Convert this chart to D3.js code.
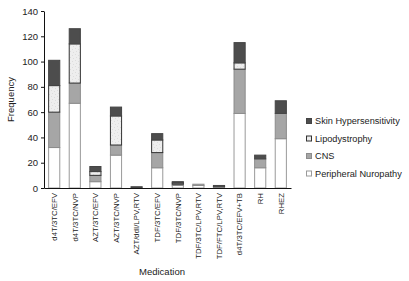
<!DOCTYPE html>
<html>
<head>
<meta charset="utf-8">
<script src="https://cdn.jsdelivr.net/npm/d3@7"></script>
<style>
  body { margin: 0; background: #fff; }
  text { font-family: "Liberation Sans", Arial, sans-serif; fill: #222; }
  .axis path, .axis line { stroke: #111; }
</style>
</head>
<body>
<svg width="409" height="281"></svg>
<script>
// Chart data
var medications = ['d4T/3TC/EFV', 'd4T/3TC/NVP', 'AZT/3TC/EFV', 'AZT/3TC/NVP', 'AZT/ddI/LPV,RTV',
    'TDF/3TC/EFV', 'TDF/3TC/NVP', 'TDF/3TC/LPV,RTV', 'TDF/FTC/LPV,RTV', 'd4T/3TC/EFV+TB', 'RH', 'RHEZ'];
var peripheral = [32, 67, 5, 26, 0, 16, 2, 2, 0, 59, 16, 39];
var cns        = [28, 16, 5, 8, 0, 12, 1, 1, 1, 35, 7, 20];
var lipo       = [21, 31, 3, 23, 0, 10, 1, 0, 0, 5, 0, 0];
var skin       = [20, 12, 4, 7, 1, 5, 1, 0, 1, 16, 3, 10];
var yTicks = [0, 20, 40, 60, 80, 100, 120, 140];
var seriesNames = ['Peripheral Nuropathy', 'CNS', 'Lipodystrophy', 'Skin Hypersensitivity'];

var svg = d3.select('svg');
var padding = {t: 11, l: 44, r: 118, b: 93};
var chartWidth = 409 - padding.l - padding.r;
var chartHeight = 281 - padding.t - padding.b;

// Texture for the lipodystrophy segments
var defs = svg.append('defs');
var pat = defs.append('pattern')
    .attr('id', 'speckle')
    .attr('patternUnits', 'userSpaceOnUse')
    .attr('width', 6).attr('height', 6);
pat.append('rect').attr('width', 6).attr('height', 6).attr('fill', '#eeeeee');
[[1, 1], [4, 2], [2, 4], [5, 5]].forEach(function(p) {
    pat.append('rect').attr('x', p[0]).attr('y', p[1]).attr('width', 1).attr('height', 1).attr('fill', '#dddddd');
});

var fills = ['#ffffff', '#a6a6a6', 'url(#speckle)', '#4d4d4d'];
var strokes = ['#9a9a9a', '#8c8c8c', '#333333', '#444444'];

var rows = medications.map(function(m, i) {
    return {med: m, pn: peripheral[i], cns: cns[i], lipo: lipo[i], skin: skin[i]};
});
var stack = d3.stack().keys(['pn', 'cns', 'lipo', 'skin'])(rows);

var xScale = d3.scaleBand()
    .domain(medications)
    .range([0, chartWidth])
    .paddingInner(0.41)
    .paddingOuter(0.2);

var yScale = d3.scaleLinear()
    .domain([0, 140])
    .range([chartHeight, 0]);

var chartG = svg.append('g')
    .attr('transform', 'translate(' + [padding.l, padding.t] + ')');

// Stacked bars
var layers = chartG.selectAll('.layer')
    .data(stack)
    .enter()
    .append('g')
    .attr('class', 'layer')
    .attr('fill', function(d, i) { return fills[i]; })
    .attr('stroke', function(d, i) { return strokes[i]; });

layers.selectAll('rect')
    .data(function(d) { return d; })
    .enter()
    .filter(function(d) { return d[1] > d[0]; })
    .append('rect')
    .attr('x', function(d) { return xScale(d.data.med) + 0.5; })
    .attr('y', function(d) { return yScale(d[1]); })
    .attr('width', xScale.bandwidth() - 1)
    .attr('height', function(d) { return yScale(d[0]) - yScale(d[1]); })
    .attr('stroke-width', 1);

// Axes
chartG.append('g')
    .attr('class', 'axis')
    .call(d3.axisLeft(yScale).tickValues(yTicks).tickSize(3).tickSizeOuter(0))
    .call(function(g) { g.selectAll('text').attr('font-size', 9.5).attr('fill', '#222'); });

var xAxis = chartG.append('g')
    .attr('class', 'axis')
    .attr('transform', 'translate(0,' + chartHeight + ')')
    .call(d3.axisBottom(xScale).tickSize(0).tickSizeOuter(0));
xAxis.selectAll('text')
    .attr('font-size', 7.8)
    .attr('fill', '#222')
    .attr('transform', 'rotate(-90)')
    .attr('text-anchor', 'end')
    .attr('x', -5)
    .attr('y', 0)
    .attr('dy', '0.35em');

// Axis titles
svg.append('text')
    .attr('transform', 'translate(' + [14, padding.t + chartHeight / 2] + ') rotate(-90)')
    .attr('text-anchor', 'middle')
    .attr('font-size', 9.5)
    .text('Frequency');

svg.append('text')
    .attr('x', 162)
    .attr('y', 275)
    .attr('text-anchor', 'middle')
    .attr('font-size', 9.5)
    .text('Medication');

// Legend (top entry is the top of the stack)
var legend = svg.append('g')
    .attr('transform', 'translate(306,118)');
var legendItems = legend.selectAll('.item')
    .data(seriesNames.slice().reverse())
    .enter()
    .append('g')
    .attr('class', 'item')
    .attr('transform', function(d, i) { return 'translate(0,' + (i * 17.5) + ')'; });
legendItems.append('rect')
    .attr('x', 0.5).attr('y', 0.5)
    .attr('width', 5).attr('height', 5)
    .attr('fill', function(d, i) { return fills[3 - i]; })
    .attr('stroke', function(d, i) { return strokes[3 - i]; });
legendItems.append('text')
    .attr('x', 9)
    .attr('y', 3)
    .attr('dy', '0.35em')
    .attr('font-size', 9.2)
    .text(function(d) { return d; });
</script>
</body>
</html>
